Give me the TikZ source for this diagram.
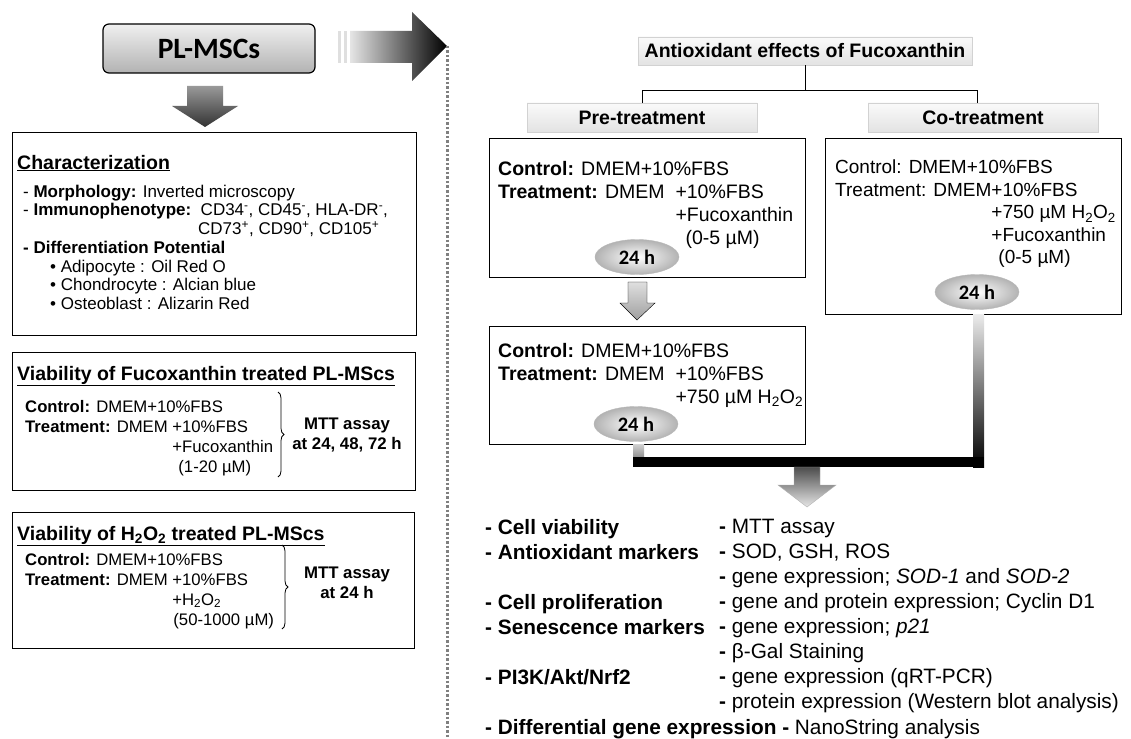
\documentclass[tikz,border=0pt]{standalone}
\usepackage{fontspec}
\setmainfont{Liberation Sans}
\newfontfamily\calib{Carlito}
\usetikzlibrary{arrows.meta,calc,positioning,decorations.pathreplacing,shapes.geometric}
\newcommand{\fsz}[2]{\fontsize{#1}{#2}\selectfont}
\tikzset{
  panel/.style = {draw, line width=1.1pt, anchor=north west, inner sep=0pt},
  hdrbox/.style = {draw=gray!35, top color=gray!4, bottom color=gray!22, inner sep=0pt,
                   minimum height=29pt, font=\bfseries\fsz{19.5}{22}},
  hours/.style = {ellipse, draw=gray!55, inner color=white, outer color=gray!60,
                  minimum width=84pt, minimum height=35pt, inner sep=0pt,
                  font=\calib\bfseries\fsz{20.5}{22}},
  lines/.style = {anchor=north west, align=left, inner sep=0pt},
  ttl/.style = {anchor=base west, inner sep=0pt, font=\bfseries\fsz{19.5}{22}},
  mtt/.style = {align=center, inner sep=0pt, font=\bfseries\fsz{16.8}{20}},
  curly/.style = {decorate, decoration={brace, amplitude=6pt}, line width=0.8pt},
  link/.style = {line width=1pt},
  sep/.style = {gray, line width=3pt, dash pattern=on 2.5pt off 2pt},
}

\begin{document}
\begin{tikzpicture}[x=1pt,y=-1pt]
  \path[use as bounding box, fill=white] (0,0) rectangle (1131,738);

  % left column
  \node[draw, rounded corners=6pt, line width=1.2pt, top color=gray!12, bottom color=gray!60,
        minimum width=212pt, minimum height=49pt, font=\calib\bfseries\fsz{29.5}{30}]
        (plmsc) at (209,48.5) {PL-MSCs};
  \shade[top color=black!40, bottom color=black!80] (187,86) -- (223,86) -- (223,106) -- (238,106)
        -- (205,127) -- (172,106) -- (187,106) -- cycle;
  \shade[left color=gray!20, right color=black] (350,31) -- (412,31) -- (412,12) -- (447,46)
        -- (412,81) -- (412,63) -- (350,63) -- cycle;
  \fill[gray!25] (338,31) rectangle (341,63);
  \fill[gray!25] (344,31) rectangle (347,63);
  \coordinate (split) at (447,46);
  \draw[sep] (split) -- (447,738);

  \node[panel, minimum width=404pt, minimum height=203pt] (charbox) at (12,132) {};
  \node[ttl] (chartitle) at (17,169) {\underline{Characterization}};
  \node[lines, font=\fsz{17}{18.7}] (charbody) at (23,184.7)
    {- \textbf{Morphology:} Inverted microscopy\\
     - \textbf{Immunophenotype:}\ \ CD34\textsuperscript{-}, CD45\textsuperscript{-}, HLA-DR\textsuperscript{-},\\
     \hspace*{175pt}CD73\textsuperscript{+}, CD90\textsuperscript{+}, CD105\textsuperscript{+}\\
     \textbf{- Differentiation Potential}\\
     \hspace*{27pt}\textbullet\ Adipocyte : Oil Red O\\
     \hspace*{27pt}\textbullet\ Chondrocyte : Alcian blue\\
     \hspace*{27pt}\textbullet\ Osteoblast : Alizarin Red};

  \node[panel, minimum width=403pt, minimum height=138pt] (fucobox) at (12,352) {};
  \node[ttl] (fucotitle) at (17,380) {\underline{Viability of Fucoxanthin treated PL-MScs}};
  \node[lines, font=\fsz{16.7}{20}] (fucobody) at (25,399.8)
    {\textbf{Control:} DMEM+10\%FBS\\
     \textbf{Treatment:} DMEM +10\%FBS\\
     \hphantom{\textbf{Treatment:} DMEM }+Fucoxanthin\\
     \hphantom{\textbf{Treatment:} DMEM }\hspace*{6pt}(1-20 µM)};
  \draw[curly] (278,392) -- (278,477);
  \node[mtt] (fucomtt) at (347,435) {MTT assay\\at 24, 48, 72 h};

  \node[panel, minimum width=402pt, minimum height=136pt] (hpbox) at (12,512) {};
  \node[ttl] (hptitle) at (17,540) {\underline{Viability of H\textsubscript{2}O\textsubscript{2} treated PL-MScs}};
  \node[lines, font=\fsz{16.7}{20}] (hpbody) at (25,552.8)
    {\textbf{Control:} DMEM+10\%FBS\\
     \textbf{Treatment:} DMEM +10\%FBS\\
     \hphantom{\textbf{Treatment:} DMEM }+H\textsubscript{2}O\textsubscript{2}\\
     \hphantom{\textbf{Treatment:} DMEM }\hspace*{1pt}(50-1000 µM)};
  \draw[curly] (282,545) -- (282,629);
  \node[mtt] (hpmtt) at (347,583) {MTT assay\\at 24 h};

  % right column
  \node[hdrbox, minimum width=334pt, minimum height=28pt] (antiox) at (805,51) {Antioxidant effects of Fucoxanthin};
  \node[hdrbox, minimum width=230pt] (pretab) at (642,117.5) {Pre-treatment};
  \node[hdrbox, minimum width=230pt] (cotab) at (983,117.5) {Co-treatment};
  \coordinate (fork) at ($(antiox.south)+(0,25)$);
  \draw[link] (antiox.south) -- (fork);
  \draw[link] (pretab.north) |- (fork) -| ($(cotab.north)+(-6,0)$);

  \node[panel, minimum width=316pt, minimum height=139pt] (prebox) at (489,138) {};
  \node[lines, font=\fsz{19.5}{23}] (prebody) at (498,160.8)
    {\textbf{Control:} DMEM+10\%FBS\\
     \textbf{Treatment:} DMEM\ \ +10\%FBS\\
     \hphantom{\textbf{Treatment:} DMEM\ \ }+Fucoxanthin\\
     \hphantom{\textbf{Treatment:} DMEM\ \ }\hspace*{10pt}(0-5 µM)};
  \node[hours] (hra) at (637,257) {24 h};

  \shade[draw=black, top color=gray!25, bottom color=gray!75] (628,282) -- (647,282) -- (647,303)
        -- (655,303) -- (637,320) -- (620,303) -- (628,303) -- cycle;

  \node[panel, minimum width=316pt, minimum height=118pt] (prebox2) at (489,326) {};
  \node[lines, font=\fsz{19.5}{23}] (prebody2) at (498,342.8)
    {\textbf{Control:} DMEM+10\%FBS\\
     \textbf{Treatment:} DMEM\ \ +10\%FBS\\
     \hphantom{\textbf{Treatment:} DMEM\ \ }+750 µM H\textsubscript{2}O\textsubscript{2}};
  \node[hours] (hrb) at (636,424) {24 h};

  \node[panel, minimum width=296pt, minimum height=176pt] (cobox) at (825,138) {};
  \node[lines, font=\fsz{19}{22.5}] (cobody) at (835,160)
    {Control: DMEM+10\%FBS\\
     Treatment: DMEM+10\%FBS\\
     \hphantom{Treatment: DMEM}+750 µM H\textsubscript{2}O\textsubscript{2}\\
     \hphantom{Treatment: DMEM}+Fucoxanthin\\
     \hphantom{Treatment: DMEM}\hspace*{7pt}(0-5 µM)};
  \node[hours] (hrc) at (977,292) {24 h};

  \shade[top color=gray!35, bottom color=gray!90] (633,444) rectangle (644,458);
  \shade[top color=gray!15, bottom color=black] (973,314) rectangle (984,467);
  \fill[black] (633,457) rectangle (984,467);
  \shade[draw=gray!60, top color=black!70, bottom color=gray!20] (794,467) -- (820,467) -- (820,485)
        -- (836,485) -- (807,507) -- (778,485) -- (794,485) -- cycle;

  \node[lines, font=\bfseries\fsz{20.8}{25}] (readleft) at (485,519.3)
    {- Cell viability\\
     - Antioxidant markers\\ \mbox{}\\
     - Cell proliferation\\
     - Senescence markers\\ \mbox{}\\
     - PI3K/Akt/Nrf2\\ \mbox{}};
  \node[lines, font=\fsz{20.8}{25}] (readright) at (719,519.3)
    {\textbf{-} MTT assay\\
     \textbf{-} SOD, GSH, ROS\\
     \textbf{-} gene expression; \textit{SOD-1} and \textit{SOD-2}\\
     \textbf{-} gene and protein expression; Cyclin D1\\
     \textbf{-} gene expression; \textit{p21}\\
     \textbf{-} β-Gal Staining\\
     \textbf{-} gene expression (qRT-PCR)\\
     \textbf{-} protein expression (Western blot analysis)};
  \node[anchor=base west, inner sep=0pt, font=\fsz{20.8}{25}] (readlast) at (485,734.5)
    {\textbf{- Differential gene expression -} NanoString analysis};
\end{tikzpicture}
\end{document}
